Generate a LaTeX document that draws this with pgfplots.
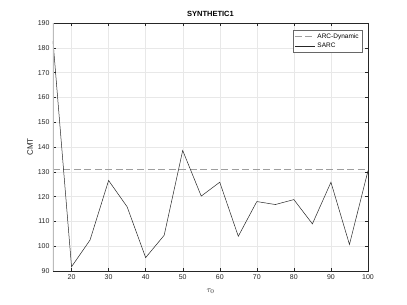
\documentclass[border=0pt]{standalone}
\usepackage{pgfplots}
\pgfplotsset{compat=1.18}
\usepackage{fontspec}
\setmainfont{Liberation Sans}
\definecolor{axc}{rgb}{0.15,0.15,0.15}
\definecolor{gridc}{rgb}{0.91,0.91,0.91}
\definecolor{dashc}{rgb}{0.62,0.62,0.62}
\begin{document}
\begin{tikzpicture}
\path[use as bounding box] (-53pt,-34pt) rectangle (354pt,271pt);
\begin{axis}[
  at={(0,0)}, anchor=south west,
  scale only axis, width=315pt, height=248pt,
  xmin=15, xmax=100, ymin=90, ymax=190,
  xtick={20,30,...,100}, ytick={90,100,...,190},
  grid=major, major grid style={gridc, line width=0.4pt},
  tick align=inside, major tick length=3pt,
  axis line style={axc, line width=0.4pt},
  tick style={axc, line width=0.4pt},
  every tick label/.append style={font=\fontsize{7}{8}\selectfont, text=axc},
  /pgf/number format/assume math mode=true,
  title={\textbf{SYNTHETIC1}},
  title style={font=\fontsize{7.5}{9}\selectfont, yshift=-3pt},
  xlabel={$\tau_0$}, ylabel={CMT},
  xlabel style={font=\fontsize{8}{9}\selectfont, text=axc, yshift=-3pt},
  ylabel style={font=\fontsize{8}{9}\selectfont, text=axc, yshift=-2pt},
  legend style={at={(0.982,0.972)}, anchor=north east, font=\fontsize{6.5}{7.5}\selectfont,
    draw=axc!70, line width=0.4pt, inner sep=1.5pt, row sep=-1pt},
  legend cell align=left,
  legend image code/.code={\draw[#1] (0cm,0cm) -- (0.7cm,0cm);},
]
\addplot[dashc, line width=1.1pt, dash pattern=on 7pt off 3.5pt] coordinates {(15,130.8) (100,130.8)};
\addlegendentry{ARC-Dynamic}
\addplot[axc, line width=0.5pt] coordinates {
(15,182.7) (20,91.7) (25,102.5) (30,126.5) (35,115.9) (40,95.4) (45,104.4)
(50,138.6) (55,120.2) (60,125.8) (65,104.0) (70,118.0) (75,116.8) (80,118.8)
(85,109.0) (90,125.8) (95,100.7) (100,130.4)};
\addlegendentry{SARC}
\addplot[dashc!70, line width=1.6pt, forget plot] coordinates {(15,90) (15,190)};
\end{axis}
\end{tikzpicture}
\end{document}
